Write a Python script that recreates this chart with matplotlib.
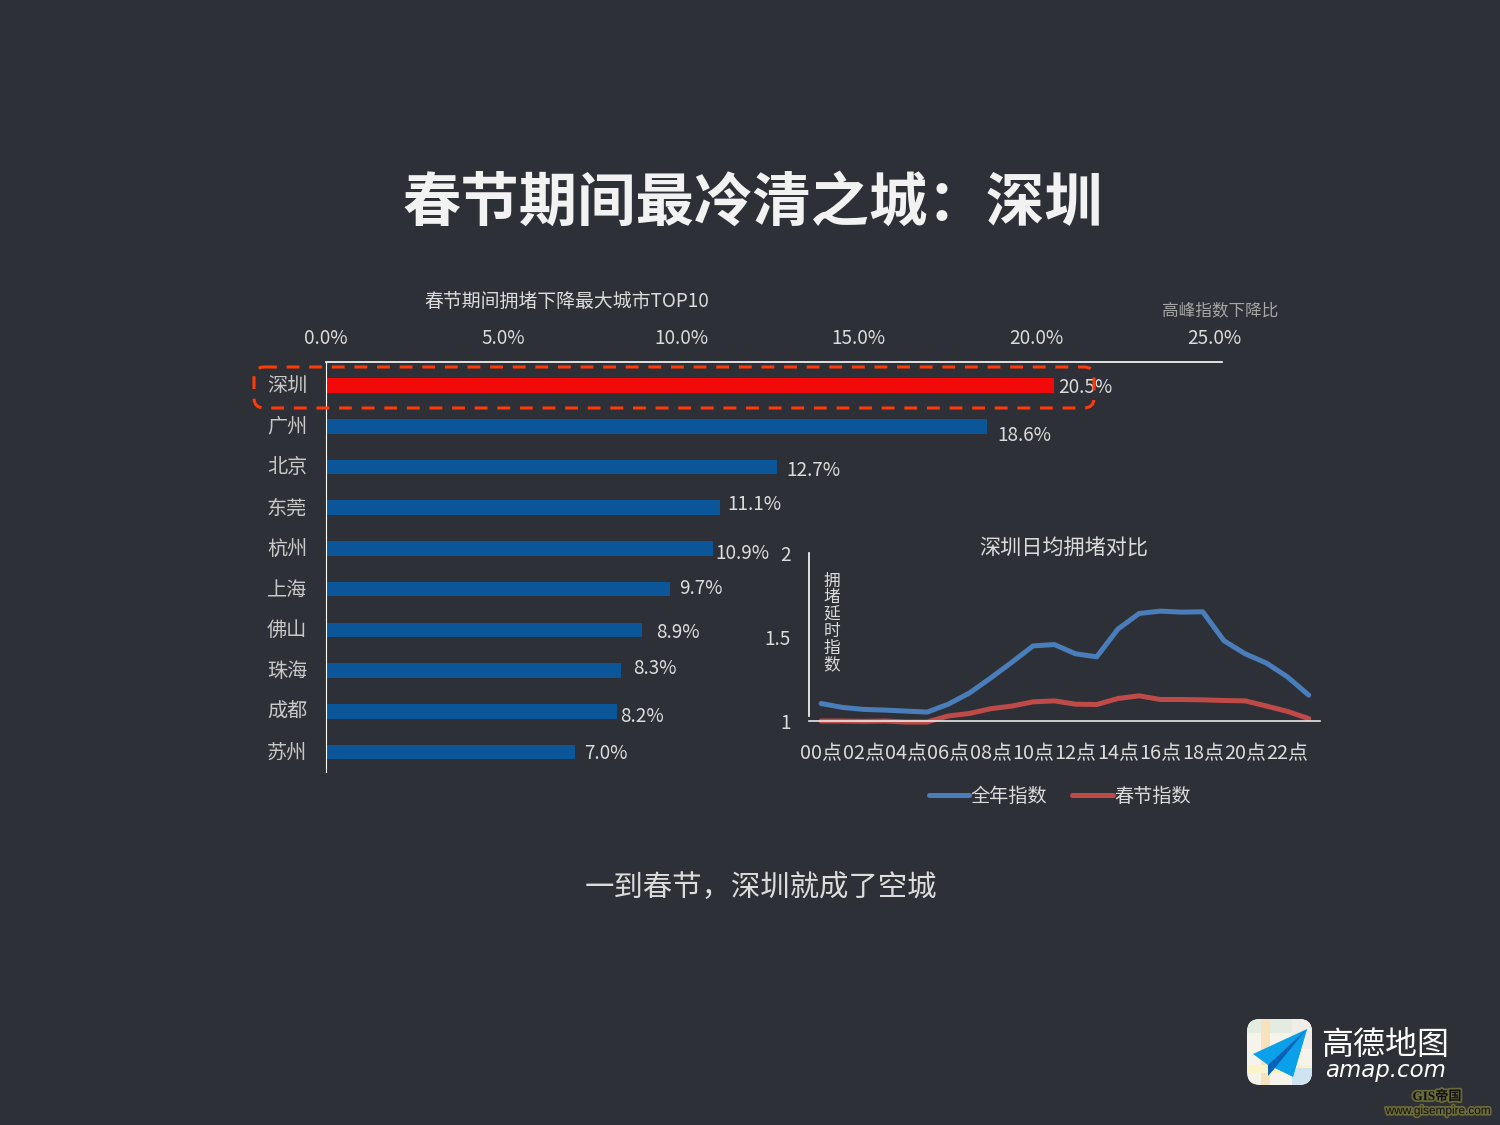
import matplotlib
matplotlib.use("Agg")
import matplotlib.patheffects as pe
import matplotlib.pyplot as plt
from matplotlib.patches import FancyBboxPatch, Polygon, Rectangle
from matplotlib.transforms import ScaledTranslation

plt.rcParams["font.family"] = ["Noto Sans CJK SC", "DejaVu Sans"]

_BG = "#2E3037"
_TXT = "#DCDCDC"
_W, _H = 1500, 1125

cities = ["深圳", "广州", "北京", "东莞", "杭州", "上海", "佛山", "珠海", "成都", "苏州"]
drop_pct = [20.5, 18.6, 12.7, 11.1, 10.9, 9.7, 8.9, 8.3, 8.2, 7.0]
pct_ticks = [0, 5, 10, 15, 20, 25]

hours = list(range(24))
hour_labels = [f"{h:02d}点" for h in hours[::2]]
year_index = [1.104, 1.081, 1.069, 1.065, 1.059, 1.053, 1.100, 1.167, 1.256, 1.350, 1.447, 1.455,
              1.400, 1.382, 1.547, 1.640, 1.654, 1.648, 1.650, 1.478, 1.400, 1.345, 1.262, 1.154]
spring_index = [1.000, 1.000, 0.998, 1.000, 0.994, 0.994, 1.030, 1.045, 1.073, 1.089, 1.114, 1.120,
                1.100, 1.098, 1.134, 1.150, 1.128, 1.128, 1.126, 1.122, 1.120, 1.089, 1.057, 1.014]

# hand placed data labels, pixels away from the bar end (the source slide has them uneven)
label_dx = [4, 11, 9, 7, 2, 9, 14, 12, 3, 10]
label_dy = [-2, -9, -4, 3, -5, 1, -3, 2, -5, -1]


def _px_axes(fig, x0, y0, x1, y1):
    return fig.add_axes([x0 / _W, 1 - y1 / _H, (x1 - x0) / _W, (y1 - y0) / _H])


def _bars(fig):
    ax = _px_axes(fig, 326, 362, 1222, 772)
    colors = ["#F20A0A"] + ["#0A5699"] * 9
    ax.barh(range(len(cities)), drop_pct, height=0.36, color=colors)
    ax.set_xlim(0, 25.23)
    ax.set_ylim(9.49, -0.577)
    ax.set_facecolor("none")
    ax.xaxis.tick_top()
    ax.set_xticks(pct_ticks, [f"{t:.1f}%" for t in pct_ticks], color=_TXT, fontsize=13.6)
    ax.set_yticks(range(len(cities)), cities, color="#C8C8C8", fontsize=14.5)
    ax.tick_params(length=0)
    ax.tick_params(axis="x", pad=9.5)
    ax.tick_params(axis="y", pad=13.5)
    up = ScaledTranslation(0, 1.5 / 100, fig.dpi_scale_trans)
    for lab in ax.get_yticklabels():
        lab.set_transform(lab.get_transform() + up)
    for side in ["right", "bottom"]:
        ax.spines[side].set_visible(False)
    ax.spines["top"].set_color("white")
    ax.spines["left"].set_color("white")
    ax.spines["top"].set_linewidth(1.2)
    ax.spines["left"].set_linewidth(0.8)
    for i, v in enumerate(drop_pct):
        ax.annotate(f"{v}%", (v, i), xytext=(label_dx[i] * 0.72, label_dy[i] * 0.72),
                    textcoords="offset points", va="center", ha="left", color=_TXT, fontsize=13.6)


def _lines(fig):
    ax = _px_axes(fig, 809, 553, 1320, 721)
    ax.plot(hours, year_index, color="#4A7EBB", lw=3.6, label="全年指数", clip_on=False,
            solid_capstyle="round", solid_joinstyle="round")
    ax.plot(hours, spring_index, color="#BE4B48", lw=3.6, label="春节指数", clip_on=False,
            solid_capstyle="round", solid_joinstyle="round")
    ax.set_xlim(-0.57, 23.53)
    ax.set_ylim(1, 2)
    ax.set_facecolor("none")
    ax.set_xticks(hours[::2], hour_labels, color=_TXT, fontsize=14.3)
    ax.set_yticks([1, 1.5, 2], ["1", "1.5", "2"], color=_TXT, fontsize=13.6)
    ax.tick_params(length=0)
    ax.tick_params(axis="x", pad=16)
    ax.tick_params(axis="y", pad=13)
    for side in ["right", "top"]:
        ax.spines[side].set_visible(False)
    ax.spines["bottom"].set_color("#E8E8E8")
    ax.spines["bottom"].set_linewidth(1.2)
    ax.spines["left"].set_color("white")
    ax.spines["left"].set_linewidth(1.2)
    ax.spines["left"].set_bounds(1.03, 2)
    ax.legend(loc="center", bbox_to_anchor=(0.491, -0.45), ncol=2, frameon=False, fontsize=13.8,
              labelcolor=_TXT, handlelength=2.1, handletextpad=0.1, columnspacing=1.3)


def _logo(ov):
    box = FancyBboxPatch((1247, 1019), 65, 66, boxstyle="round,pad=0,rounding_size=13",
                         fc="#F6F4EA", ec="none", zorder=3)
    ov.add_patch(box)
    patches = [
        Rectangle((1247, 1019), 65, 14, fc="#E4EBE0"),
        Rectangle((1261, 1019), 9, 66, fc="#F8E2BE"),
        Rectangle((1247, 1065), 65, 8, fc="#FBF3C8"),
        Rectangle((1292, 1019), 20, 30, fc="#EFEDE6"),
        Rectangle((1292, 1068), 20, 17, fc="#CFE3F0"),
    ]
    for p in patches:
        p.set_zorder(4)
        p.set_edgecolor("none")
        ov.add_patch(p)
        p.set_clip_path(box)
    ov.add_patch(Polygon([(1307, 1029), (1253, 1054), (1268, 1065), (1293, 1076)], fc="#0AA0EA", zorder=5))
    ov.add_patch(Polygon([(1307, 1029), (1268, 1065), (1268, 1076), (1275, 1068)], fc="#0A62B8", zorder=6))
    ov.add_patch(Polygon([(1307, 1029), (1275, 1068), (1293, 1077)], fc="#0AA0EA", zorder=7))
    ov.text(1385, 1054, "高德地图", color="white", fontsize=23, ha="center", va="baseline")
    ov.text(1386, 1077, "amap.com", color="white", fontsize=16.5, ha="center", va="baseline",
            family="DejaVu Sans", style="italic")
    glow = [pe.withStroke(linewidth=2.5, foreground="#6B6A3A")]
    ov.text(1437, 1097, "GIS帝国", color="#111111", fontsize=9.5, weight="bold", ha="center", va="center",
            family=["Liberation Serif", "Noto Sans CJK SC"], path_effects=glow)
    ov.text(1438, 1111, "www.gisempire.com", color="#111111", fontsize=8.5, ha="center", va="center",
            family="Liberation Sans", path_effects=glow)


def main():
    fig = plt.figure(figsize=(15, 11.25), dpi=100, facecolor=_BG)
    _bars(fig)
    _lines(fig)

    ov = fig.add_axes([0, 0, 1, 1])
    ov.set_xlim(0, _W)
    ov.set_ylim(_H, 0)
    ov.axis("off")
    ov.text(753, 204, "春节期间最冷清之城：深圳", color="#F2F2F2", fontsize=42, weight="bold",
            ha="center", va="center")
    ov.text(567, 301, "春节期间拥堵下降最大城市TOP10", color=_TXT, fontsize=13.6, ha="center", va="center")
    ov.text(1220, 311, "高峰指数下降比", color="#A6A6A6", fontsize=12, ha="center", va="center")
    ov.text(1064, 549, "深圳日均拥堵对比", color=_TXT, fontsize=15.2, ha="center", va="center")
    ov.text(832, 623, "\n".join("拥堵延时指数"), color=_TXT, fontsize=12, ha="center", va="center",
            linespacing=0.98)
    ov.text(761, 888, "一到春节，深圳就成了空城", color=_TXT, fontsize=21.2, ha="center", va="center")
    ov.add_patch(FancyBboxPatch((254, 367), 840, 41, boxstyle="round,pad=0,rounding_size=10",
                                fc="none", ec="#FF3B0A", lw=2.2, linestyle=(0, (4.2, 3.2))))
    _logo(ov)

    fig.savefig("out.png", dpi=100, facecolor=_BG)


if __name__ == "__main__":
    main()
